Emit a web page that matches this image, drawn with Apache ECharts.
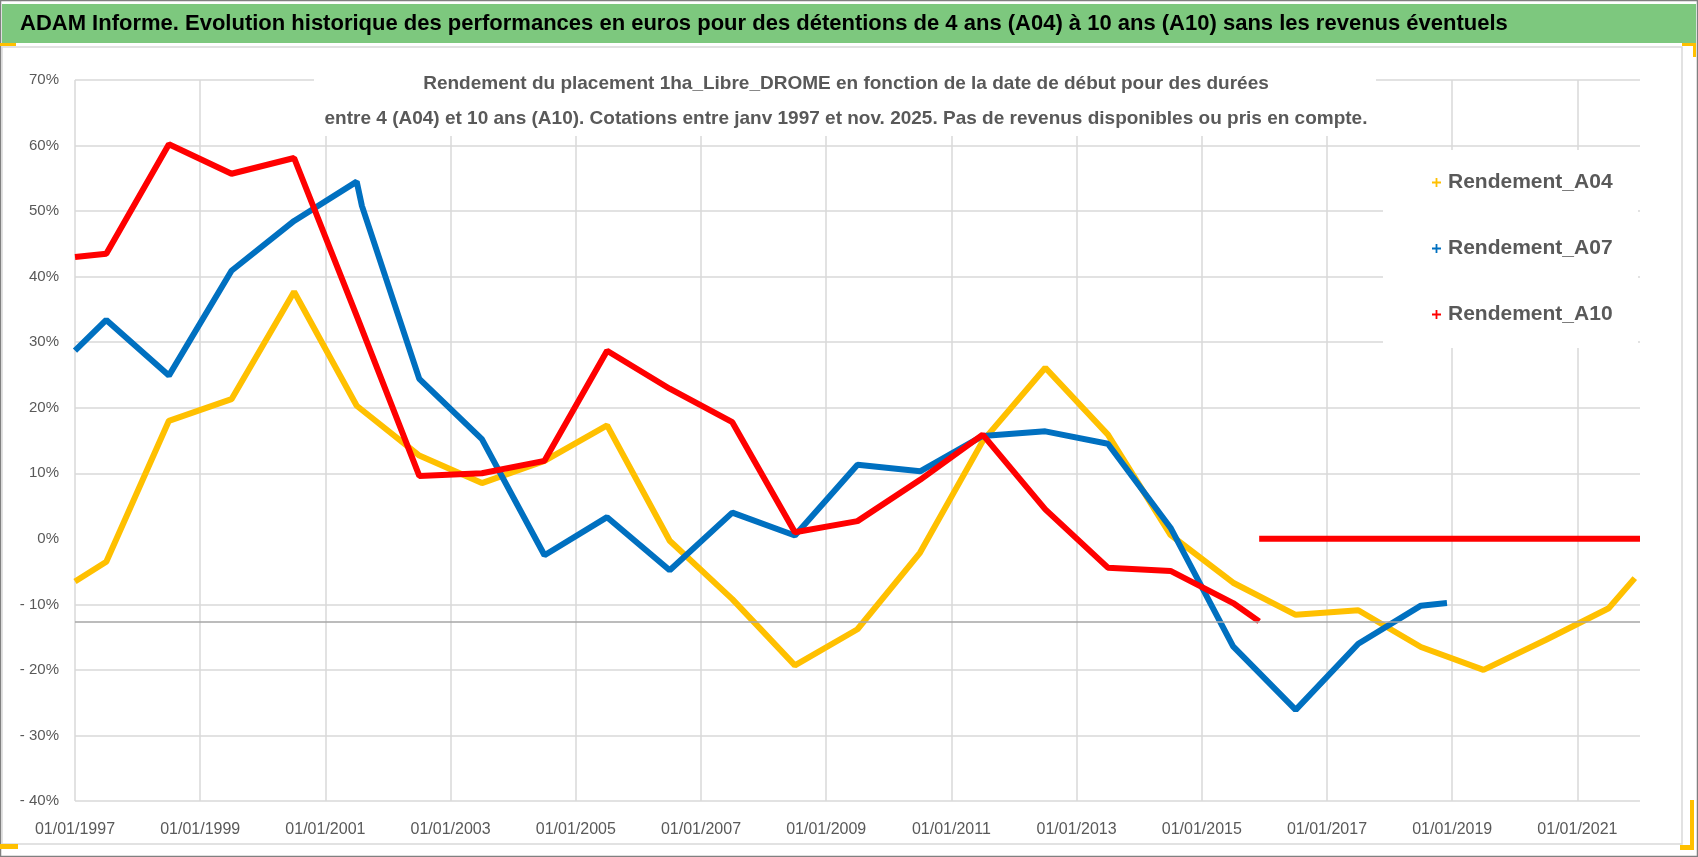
<!DOCTYPE html>
<html>
<head>
<meta charset="utf-8">
<script src="https://cdn.jsdelivr.net/npm/echarts@6/dist/echarts.min.js"></script>
<style>
  html, body { margin: 0; padding: 0; background: #fff; }
  #main { width: 1698px; height: 857px; }
</style>
</head>
<body>
<div id="main"></div>
<script>
// valeurs (dates de début, rendement en %)
var datesA04 = ['1997-01','1997-07','1998-07','1999-07','2000-07','2001-07','2002-07','2003-07','2004-07',
  '2005-07','2006-07','2007-07','2008-07','2009-07','2010-07','2011-07','2012-07','2013-07','2014-07',
  '2015-07','2016-07','2017-07','2018-07','2019-07','2020-07','2021-07','2021-12'];
var valuesA04 = [-6.5, -3.5, 18.0, 21.3, 37.7, 20.3, 12.7, 8.5, 11.9,
  17.3, -0.3, -9.2, -19.3, -13.8, -2.1, 14.9, 26.1, 15.9, 0.6,
  -6.7, -11.6, -10.9, -16.5, -20.0, -15.4, -10.6, -6.0];

var datesA07 = ['1997-01','1997-07','1998-07','1999-07','2000-07','2001-07','2001-08','2002-07','2003-07',
  '2004-07','2005-07','2006-07','2007-07','2008-07','2009-07','2010-07','2011-07','2012-07','2013-07',
  '2014-07','2015-07','2016-07','2017-07','2018-07','2018-12'];
var valuesA07 = [28.7, 33.4, 24.9, 40.9, 48.5, 54.5, 50.8, 24.4, 15.2,
  -2.5, 3.3, -4.8, 4.0, 0.5, 11.3, 10.3, 15.7, 16.4, 14.5,
  1.7, -16.4, -26.1, -16.0, -10.2, -9.8];

var datesA10 = ['1997-01','1997-07','1998-07','1999-07','2000-07','2001-07','2002-07','2003-07','2004-07',
  '2005-07','2006-07','2007-07','2008-07','2009-07','2010-07','2011-07','2012-07','2013-07','2014-07',
  '2015-07','2015-12'];
var valuesA10 = [43.0, 43.5, 60.2, 55.7, 58.1, 34.0, 9.6, 10.0, 11.9,
  28.7, 22.9, 17.8, 1.0, 2.7, 9.0, 15.9, 4.5, -4.4, -4.9,
  -9.8, -12.6];
// pas de donnees A10 apres fin 2015 : valeurs a zero
var datesA10Zero = ['2015-12','2022-01'];
var valuesA10Zero = [0, 0];

var yTicks = [-40, -30, -20, -10, 0, 10, 20, 30, 40, 50, 60, 70];
var axisCross = -12.7;

var FONT = '"Liberation Sans Narrow", "Liberation Sans", sans-serif';

function toMonths(d) {
  var p = d.split('-');
  return (parseInt(p[0], 10) - 1997) * 12 + (parseInt(p[1], 10) - 1);
}
function pairs(dates, vals) {
  var out = [];
  for (var i = 0; i < dates.length; i++) out.push([toMonths(dates[i]), vals[i]]);
  return out;
}

var a10Data = pairs(datesA10, valuesA10)
  .concat([[toMonths('2015-12'), '-']])
  .concat(pairs(datesA10Zero, valuesA10Zero));

var gridColors = yTicks.map(function (t) { return t === 0 ? 'rgba(0,0,0,0)' : '#d9d9d9'; });

var plusIcon = 'path://M4,0h2v4h4v2h-4v4h-2v-4h-4v-2h4z';

var chart = echarts.init(document.getElementById('main'));
var option = {
  backgroundColor: '#fff',
  animation: false,
  title: [
    {
      text: 'ADAM Informe. Evolution historique des performances en euros pour des détentions de 4 ans (A04) à 10 ans (A10) sans les revenus éventuels',
      left: 20, top: 9, padding: 0,
      textStyle: { fontFamily: FONT, fontSize: 22, fontWeight: 'bold', color: '#000', lineHeight: 30 }
    },
    {
      text: 'Rendement du placement 1ha_Libre_DROME en fonction de la date de début pour des durées\nentre 4 (A04) et 10 ans (A10). Cotations entre janv 1997 et nov. 2025. Pas de revenus disponibles ou pris en compte.',
      left: 846, top: 66, padding: 0, textAlign: 'center',
      textStyle: { fontFamily: FONT, fontSize: 19, fontWeight: 'bold', color: '#595959', lineHeight: 35, align: 'center' }
    }
  ],
  graphic: [
    { type: 'rect', z: 1, shape: { x: 0.5, y: 0.5, width: 1697, height: 856 }, style: { fill: 'none', stroke: '#808080', lineWidth: 1.5 } },
    { type: 'rect', z: 1, shape: { x: 2, y: 4, width: 1694, height: 39 }, style: { fill: '#7dc87e' } },
    { type: 'rect', z: 1, shape: { x: 2, y: 47, width: 1680, height: 797 }, style: { fill: 'none', stroke: '#d9d9d9', lineWidth: 1.5 } },
    { type: 'rect', z: 1, shape: { x: 0, y: 43, width: 16, height: 3 }, style: { fill: '#ffc000' } },
    { type: 'rect', z: 1, shape: { x: 1682, y: 43, width: 14, height: 3 }, style: { fill: '#ffc000' } },
    { type: 'rect', z: 1, shape: { x: 1693, y: 43, width: 3, height: 14 }, style: { fill: '#ffc000' } },
    { type: 'rect', z: 1, shape: { x: 0, y: 844, width: 18, height: 5 }, style: { fill: '#ffc000' } },
    { type: 'rect', z: 1, shape: { x: 1690, y: 800, width: 4, height: 50 }, style: { fill: '#ffc000' } },
    { type: 'rect', z: 1, shape: { x: 1680, y: 845, width: 14, height: 5 }, style: { fill: '#ffc000' } },
    { type: 'rect', z: 1, shape: { x: 314, y: 79, width: 1062, height: 57 }, style: { fill: '#fff' } },
    { type: 'rect', z: 1, shape: { x: 1383, y: 150, width: 255, height: 198 }, style: { fill: '#fff' } }
  ],
  legend: {
    orient: 'vertical',
    left: 1432, top: 172, padding: 0,
    itemGap: 45, itemWidth: 9, itemHeight: 9,
    z: 5,
    textStyle: { fontFamily: FONT, fontSize: 21, fontWeight: 'bold', color: '#595959', padding: [0, 0, 0, 2] },
    data: [
      { name: 'Rendement_A04', icon: plusIcon },
      { name: 'Rendement_A07', icon: plusIcon },
      { name: 'Rendement_A10', icon: plusIcon }
    ]
  },
  grid: { left: 75, right: 58, top: 80, bottom: 56 },
  xAxis: {
    type: 'value',
    min: 0, max: 300, interval: 24,
    axisLine: { show: false },
    axisTick: { show: false },
    axisLabel: {
      margin: 21, fontFamily: FONT, fontSize: 16, color: '#595959', showMaxLabel: false,
      formatter: function (v) { return v % 24 === 0 ? '01/01/' + (1997 + v / 12) : ''; }
    },
    splitLine: { show: true, showMaxLine: false, lineStyle: { color: '#d9d9d9', width: 1.5 } }
  },
  yAxis: {
    type: 'value',
    min: -40, max: 70, interval: 10,
    axisLine: { show: false },
    axisTick: { show: false },
    axisLabel: {
      margin: 16, fontFamily: FONT, fontSize: 15, color: '#595959',
      formatter: function (v) { return v < 0 ? '- ' + (-v) + '%' : v + '%'; }
    },
    splitLine: { show: true, lineStyle: { color: gridColors, width: 1.5 } }
  },
  series: [
    {
      name: 'axe', type: 'line', data: [], z: 1, silent: true,
      markLine: {
        silent: true, symbol: 'none', label: { show: false },
        lineStyle: { color: '#a6a6a6', width: 1.5, type: 'solid' },
        data: [{ yAxis: axisCross }]
      }
    },
    {
      name: 'Rendement_A04', type: 'line', data: pairs(datesA04, valuesA04),
      showSymbol: false, symbol: 'none', color: '#ffc000',
      lineStyle: { width: 6, color: '#ffc000' }
    },
    {
      name: 'Rendement_A07', type: 'line', data: pairs(datesA07, valuesA07),
      showSymbol: false, symbol: 'none', color: '#0070c0',
      lineStyle: { width: 6, color: '#0070c0' }
    },
    {
      name: 'Rendement_A10', type: 'line', data: a10Data, connectNulls: false,
      showSymbol: false, symbol: 'none', color: '#ff0000',
      lineStyle: { width: 6, color: '#ff0000' }
    }
  ]
};
chart.setOption(option);
</script>
</body>
</html>
